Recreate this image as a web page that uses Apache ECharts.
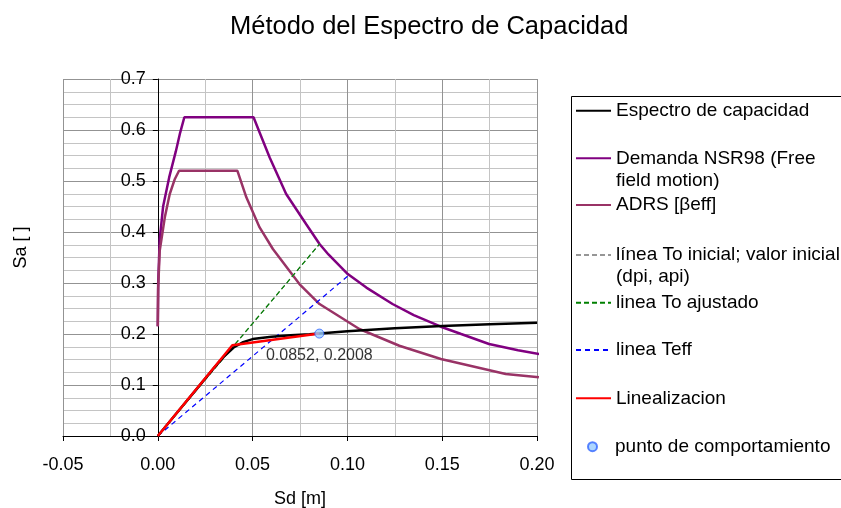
<!DOCTYPE html>
<html>
<head>
<meta charset="utf-8">
<script src="https://cdn.jsdelivr.net/npm/echarts@6/dist/echarts.min.js"></script>
<style>
html,body{margin:0;padding:0;background:#fff;}
#chart{width:841px;height:508px;}
</style>
</head>
<body>
<div id="chart"></div>
<script>
// ---- data ----
var capX = [0, 0.01, 0.02, 0.03, 0.035, 0.04, 0.045, 0.05, 0.06, 0.07, 0.08, 0.0852, 0.1, 0.125, 0.15, 0.175, 0.2];
var capY = [0, 0.045, 0.09, 0.135, 0.156, 0.1735, 0.184, 0.19, 0.1945, 0.1975, 0.1995, 0.2008, 0.2055, 0.2115, 0.2157, 0.219, 0.222];

var demX = [0, 0.0002, 0.001, 0.0028, 0.006, 0.0095, 0.0118, 0.014, 0.02, 0.03, 0.04, 0.0505, 0.0537, 0.059, 0.0677, 0.0782, 0.0853, 0.09, 0.1002, 0.11, 0.1238, 0.135, 0.1493, 0.16, 0.1747, 0.19, 0.2011];
var demY = [0.215, 0.3, 0.385, 0.45, 0.507, 0.558, 0.595, 0.625, 0.625, 0.625, 0.625, 0.625, 0.595, 0.546, 0.4745, 0.4157, 0.3765, 0.356, 0.3176, 0.291, 0.2588, 0.237, 0.2143, 0.2, 0.1804, 0.168, 0.1608];

var adrsX = [0, 0.0002, 0.001, 0.0037, 0.0063, 0.009, 0.0112, 0.02, 0.03, 0.042, 0.0467, 0.0537, 0.0607, 0.0747, 0.0853, 0.1063, 0.1274, 0.1493, 0.1835, 0.201];
var adrsY = [0.215, 0.29, 0.363, 0.4287, 0.4745, 0.504, 0.52, 0.52, 0.52, 0.52, 0.468, 0.409, 0.3667, 0.298, 0.2588, 0.2098, 0.177, 0.151, 0.1216, 0.115];

var toIniX = [0, 0.0853];
var toIniY = [0, 0.3765];
var toAjX = [0, 0.0853];
var toAjY = [0, 0.3765];
var teffX = [0, 0.101];
var teffY = [0, 0.316];
var linX = [0, 0.0393, 0.0852];
var linY = [0, 0.178, 0.2008];
var ptX = [0.0852];
var ptY = [0.2008];

var seriesNames = [
  'Espectro de capacidad',
  'Demanda NSR98 (Free\nfield motion)',
  'ADRS [\u03B2eff]',
  'l\u00EDnea To inicial; valor inicial\n(dpi, api)',
  'linea To ajustado',
  'linea Teff',
  'Linealizacion',
  'punto de comportamiento'
];

var xMin = -0.05, xMax = 0.2, xStep = 0.05;
var yMin = 0, yMax = 0.7, yStep = 0.1;

function zip(a, b) { return a.map(function (v, i) { return [v, b[i]]; }); }

var FONT = '"Liberation Sans", Arial, sans-serif';

var chart = echarts.init(document.getElementById('chart'), null, {renderer: 'canvas'});

function lineSeries(name, xs, ys, color, width, dash, z) {
  return {
    name: name, type: 'line', data: zip(xs, ys),
    showSymbol: false, symbol: 'none', smooth: false, z: z,
    lineStyle: {color: color, width: width, type: dash || 'solid'},
    itemStyle: {color: color},
    animation: false, clip: true
  };
}

// plot area geometry
var gridLeft = 63, gridRight = 537, gridTop = 79, gridBottom = 436;
// the y axis sits at x = 0
var yAxisOffset = -(0 - xMin) / (xMax - xMin) * (gridRight - gridLeft);

// legend layout: one legend per entry, centre y of first text line
var legCentres = [110.7, 158.3, 205, 255, 302.7, 350, 398.3, 446.7];
var legends = seriesNames.map(function (n, i) {
  var two = n.indexOf('\n') >= 0;
  var isPt = i === 7;
  var lg = {
    data: [n],
    orient: 'vertical',
    left: isPt ? 587 : 575,
    top: legCentres[i] - (two ? 33 : 11),
    padding: 0,
    itemWidth: 35,
    itemHeight: isPt ? 9 : 14,
    selectedMode: false,
    textStyle: {fontFamily: FONT, fontSize: 19, color: '#000', lineHeight: 22}
  };
  if (two) lg.formatter = function (name) { return '\n' + name; };
  if (!isPt) lg.itemStyle = {opacity: 0};
  return lg;
});

var option = {
  backgroundColor: '#fff',
  animation: false,
  title: {
    text: 'M\u00E9todo del Espectro de Capacidad',
    left: 225, top: 9,
    textStyle: {fontFamily: FONT, fontSize: 25.5, fontWeight: 'normal', color: '#000'}
  },
  legend: legends,
  graphic: [{
    type: 'rect', silent: true, z: -1,
    shape: {x: 571.5, y: 96.5, width: 300, height: 383},
    style: {fill: '#fff', stroke: '#000', lineWidth: 1}
  }],
  grid: {
    left: gridLeft, right: 841 - gridRight, top: gridTop, bottom: 508 - gridBottom,
    containLabel: false, outerBoundsMode: 'none'
  },
  xAxis: {
    type: 'value', min: xMin, max: xMax, interval: xStep,
    name: 'Sd [m]', nameLocation: 'middle', nameGap: 54,
    nameTextStyle: {fontFamily: FONT, fontSize: 18, color: '#000'},
    axisLine: {show: true, onZero: false, lineStyle: {color: '#000', width: 1}},
    axisTick: {show: true, length: 5, lineStyle: {color: '#000'}},
    axisLabel: {
      fontFamily: FONT, fontSize: 18, color: '#000', margin: 20,
      formatter: function (v) { return v.toFixed(2); }
    },
    splitLine: {show: true, lineStyle: {color: '#939393', width: 1}},
    minorTick: {show: false, splitNumber: 2},
    minorSplitLine: {show: true, lineStyle: {color: '#c4c4c4', width: 1}}
  },
  yAxis: {
    type: 'value', min: yMin, max: yMax, interval: yStep,
    offset: yAxisOffset,
    name: 'Sa [ ]', nameLocation: 'middle', nameGap: 128, nameRotate: 90,
    nameTextStyle: {fontFamily: FONT, fontSize: 18, color: '#000', padding: [0, 0, 0, 20]},
    axisLine: {show: true, onZero: false, lineStyle: {color: '#000', width: 1}},
    axisTick: {show: true, length: 5, lineStyle: {color: '#000'}},
    axisLabel: {
      fontFamily: FONT, fontSize: 18, color: '#000', margin: 12,
      formatter: function (v) { return v.toFixed(1); }
    },
    splitLine: {show: true, lineStyle: {color: '#939393', width: 1}},
    minorTick: {show: false, splitNumber: 4},
    minorSplitLine: {show: true, lineStyle: {color: '#c4c4c4', width: 1}}
  },
  series: [
    lineSeries(seriesNames[0], capX, capY, '#000000', 2.5, 'solid', 3),
    lineSeries(seriesNames[1], demX, demY, '#800080', 2.5, 'solid', 2),
    lineSeries(seriesNames[2], adrsX, adrsY, '#993366', 2.5, 'solid', 2),
    lineSeries(seriesNames[3], toIniX, toIniY, '#969696', 1.2, [5, 3], 2),
    lineSeries(seriesNames[4], toAjX, toAjY, '#008000', 1.2, [5, 3], 2),
    lineSeries(seriesNames[5], teffX, teffY, '#0000ff', 1.2, [5, 4], 2),
    lineSeries(seriesNames[6], linX, linY, '#ff0000', 2.5, 'solid', 4),
    {
      name: seriesNames[7], type: 'scatter', data: zip(ptX, ptY), z: 5,
      symbol: 'circle', symbolSize: 9,
      itemStyle: {color: '#99ccff', borderColor: '#3366ff', borderWidth: 1},
      label: {
        show: true, position: 'bottom', distance: 9,
        fontFamily: FONT, fontSize: 16, color: '#000',
        formatter: function (p) { return p.value[0].toFixed(4) + ', ' + p.value[1].toFixed(4); }
      },
      animation: false
    }
  ]
};
chart.setOption(option);
</script>
</body>
</html>
